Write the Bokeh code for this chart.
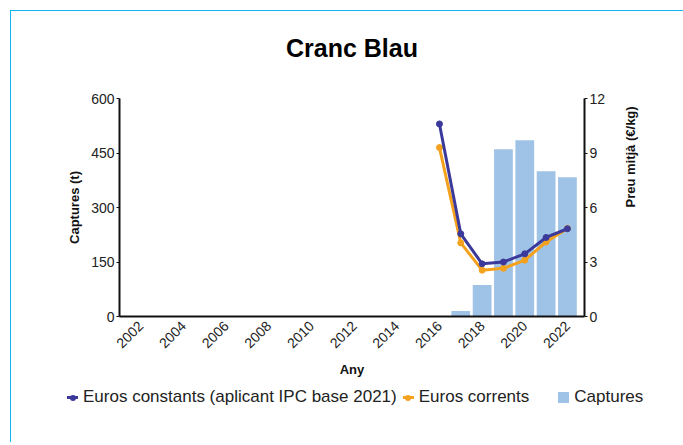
import math
from bokeh.plotting import figure
from bokeh.models import Range1d, LinearAxis, FixedTicker, Div
from bokeh.layouts import column
from bokeh.embed import file_html
from bokeh.resources import INLINE

# ---- data ----
bar_years = [2017, 2018, 2019, 2020, 2021, 2022]
captures = [15, 87, 460, 485, 400, 383]

price_years = [2016, 2017, 2018, 2019, 2020, 2021, 2022]
euros_constants = [10.6, 4.55, 2.9, 3.0, 3.45, 4.35, 4.83]
euros_corrents = [9.3, 4.05, 2.55, 2.65, 3.1, 4.1, 4.85]

x_ticks = [2002, 2004, 2006, 2008, 2010, 2012, 2014, 2016, 2018, 2020, 2022]
left_ticks = [0, 150, 300, 450, 600]
right_ticks = [0, 3, 6, 9, 12]

title_text = "Cranc Blau"
series_names = ["Euros constants (aplicant IPC base 2021)", "Euros corrents", "Captures"]

FONT = "Liberation Sans"
TXT = "#222222"
BLUE_BAR = "#9fc3e7"
PURPLE = "#3b3a9a"
ORANGE = "#f4a11d"

p = figure(frame_width=465, frame_height=218, output_backend="svg", toolbar_location=None,
           title=None,
           x_range=Range1d(2001.0, 2022.8), y_range=Range1d(0, 600),
           min_border_left=108, min_border_right=95, min_border_top=10, min_border_bottom=66)
p.outline_line_color = None
p.grid.visible = False
p.extra_y_ranges = {"price": Range1d(0, 12)}

p.vbar(x=bar_years, top=captures, width=0.88, fill_color=BLUE_BAR, line_color=None)
p.line(price_years, euros_corrents, y_range_name="price", line_color=ORANGE, line_width=3)
p.scatter(price_years, euros_corrents, y_range_name="price", size=6, fill_color=ORANGE, line_color=ORANGE)
p.line(price_years, euros_constants, y_range_name="price", line_color=PURPLE, line_width=3)
p.scatter(price_years, euros_constants, y_range_name="price", size=6, fill_color=PURPLE, line_color=PURPLE)

def style_axis(ax):
    ax.axis_line_color = "#111111"
    ax.axis_line_width = 2
    ax.major_tick_line_color = "#111111"
    ax.major_tick_in = 0
    ax.major_tick_out = 3
    ax.minor_tick_line_color = None
    ax.major_label_text_font = FONT
    ax.major_label_text_font_size = "14px"
    ax.major_label_text_color = TXT
    ax.major_label_standoff = 2
    ax.axis_label_text_font = FONT
    ax.axis_label_text_font_style = "bold"
    ax.axis_label_text_font_size = "13px"
    ax.axis_label_text_color = "#111111"

xa = p.xaxis[0]
style_axis(xa)
xa.ticker = FixedTicker(ticks=x_ticks)
xa.major_tick_line_color = None
xa.major_label_orientation = math.pi / 4
xa.major_label_standoff = 4
xa.axis_label = "Any"
xa.axis_label_standoff = 6

ya = p.yaxis[0]
style_axis(ya)
ya.ticker = FixedTicker(ticks=left_ticks)
ya.axis_label = "Captures (t)"
ya.axis_label_standoff = 6

ra = LinearAxis(y_range_name="price", ticker=FixedTicker(ticks=right_ticks))
style_axis(ra)
ra.axis_label = "Preu mitjà (€/kg)"
ra.axis_label_orientation = math.pi / 2
ra.axis_label_standoff = 22
p.add_layout(ra, "right")

# ---- title ----
title_div = Div(text=title_text, width=672, height=67,
                styles={"font-family": FONT, "font-size": "25px", "font-weight": "bold",
                        "color": "#000000", "text-align": "center", "line-height": "64px"})

# ---- legend strip ----
def line_swatch(color):
    return ('<span style="display:inline-block;position:relative;width:11px;height:11px;'
            'vertical-align:-1px">'
            f'<span style="position:absolute;left:0;top:4px;width:11px;height:3px;background:{color}"></span>'
            f'<span style="position:absolute;left:2.5px;top:2.5px;width:6px;height:6px;'
            f'border-radius:50%;background:{color}"></span></span>')

def box_swatch(color):
    return (f'<span style="display:inline-block;width:11px;height:11px;background:{color};'
            'vertical-align:-1px"></span>')

legend_html = (
    '<div style="white-space:nowrap;padding-left:51px;line-height:20px;'
    f'font-family:{FONT};font-size:17px;color:{TXT}">'
    f'{line_swatch(PURPLE)}<span style="margin-left:5px">{series_names[0]}</span>'
    f'<span style="margin-left:6px"></span>{line_swatch(ORANGE)}'
    f'<span style="margin-left:5px">{series_names[1]}</span>'
    f'<span style="margin-left:29px"></span>{box_swatch(BLUE_BAR)}'
    f'<span style="margin-left:5px">{series_names[2]}</span>'
    '</div>')
legend_div = Div(text=legend_html, width=672, height=50)

layout = column(title_div, p, legend_div, spacing=0,
                styles={"margin-left": "10px", "margin-top": "10px",
                        "border-left": "1px solid #16b4ef", "border-top": "1px solid #16b4ef"})

open("out.html", "w").write(file_html(layout, INLINE))
